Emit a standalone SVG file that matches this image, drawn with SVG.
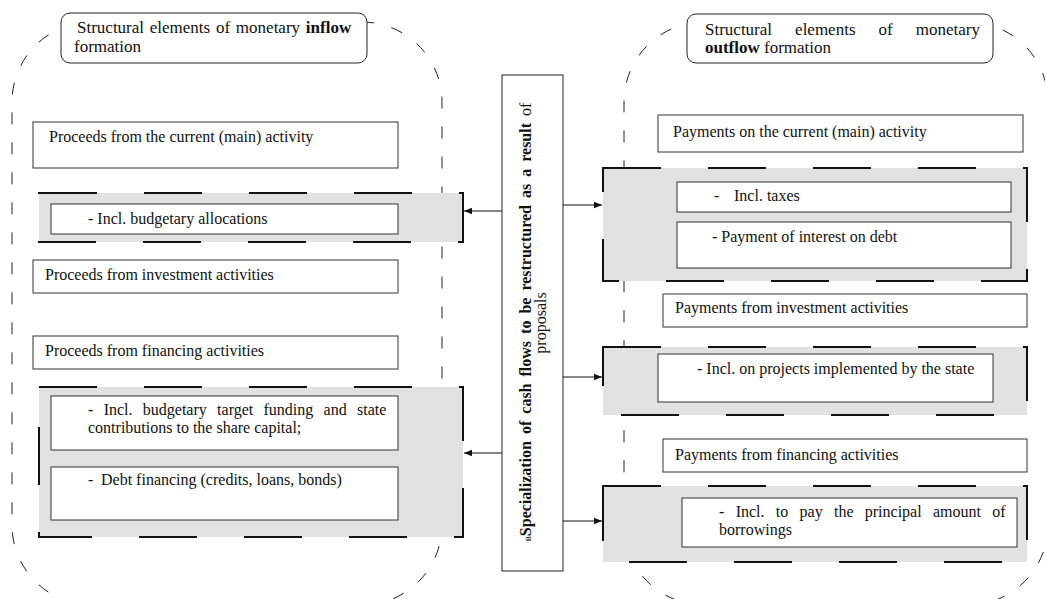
<svg xmlns="http://www.w3.org/2000/svg" width="1045" height="599" viewBox="0 0 1045 599" font-family="Liberation Serif, Times New Roman, serif">
<defs>
<style>
text{font-family:"Liberation Serif","Times New Roman",serif;font-size:16px;fill:#111}
.b{font-weight:bold}
.t{font-size:17px}
.big{fill:none;stroke:#222;stroke-width:1;stroke-dasharray:12 18}
.gray{fill:#e1e1e1;stroke:#111;stroke-width:2;stroke-dasharray:58 47}
.box{fill:#fff;stroke:#333;stroke-width:1}
.title{fill:#fff;stroke:#222;stroke-width:1}
.con{fill:none;stroke:#111;stroke-width:1.2}
</style>
<marker id="ah" viewBox="0 0 10 10" refX="10" refY="5" markerWidth="8" markerHeight="8" markerUnits="userSpaceOnUse" orient="auto"><path d="M0,1 L10,5 L0,9 Z" fill="#111"/></marker>
</defs>
<rect width="1045" height="599" fill="#fff"/>

<g id="inflow-area">
<rect class="big" x="12" y="22" width="430" height="583" rx="80" ry="80"/>
</g>
<g id="outflow-area">
<rect class="big" x="624" y="22" width="424" height="583" rx="80" ry="80"/>
</g>

<g id="inflow-title">
<rect class="title" x="61" y="13" width="306" height="50" rx="9" ry="9"/>
<text class="t" x="77" y="33" word-spacing="1.5">Structural elements of monetary <tspan class="b">inflow</tspan></text>
<text class="t" x="74" y="52">formation</text>
</g>

<g id="proceeds-current">
<rect class="box" x="33" y="122" width="365" height="46"/>
<text x="49" y="142">Proceeds from the current (main) activity</text>
</g>

<g id="group-budget-alloc">
<rect class="gray" x="39" y="193" width="424" height="49"/>
<g id="incl-budget-alloc">
<rect class="box" x="51" y="204" width="347" height="30"/>
<text x="88" y="224">- Incl. budgetary allocations</text>
</g>
</g>

<g id="proceeds-investment">
<rect class="box" x="33" y="260" width="365" height="33"/>
<text x="45" y="280">Proceeds from investment activities</text>
</g>

<g id="proceeds-financing">
<rect class="box" x="33" y="336" width="365" height="33"/>
<text x="45" y="356">Proceeds from financing activities</text>
</g>

<g id="group-financing">
<rect class="gray" x="39" y="387" width="424" height="150"/>
<g id="incl-target-funding">
<rect class="box" x="51" y="396" width="347" height="54"/>
<text x="88" y="415" word-spacing="6.3">- Incl. budgetary target funding and state</text>
<text x="88" y="433">contributions to the share capital;</text>
</g>
<g id="debt-financing">
<rect class="box" x="51" y="467" width="347" height="53"/>
<text y="485"><tspan x="88">-</tspan><tspan x="101">Debt financing (credits, loans, bonds)</tspan></text>
</g>
</g>

<g id="center">
<rect x="502" y="75" width="61" height="496" fill="#fff" stroke="#222" stroke-width="1"/>
<text transform="translate(531,322) rotate(-90)" text-anchor="middle" word-spacing="3"><tspan font-size="11">в</tspan><tspan class="b">Specialization of cash flows to be restructured as a result</tspan> of</text>
<text transform="translate(546,323) rotate(-90)" text-anchor="middle">proposals</text>
</g>

<g id="outflow-title">
<rect class="title" x="687" y="14" width="306" height="49" rx="9" ry="9"/>
<text class="t" x="705" y="35" word-spacing="18.8">Structural elements of monetary</text>
<text class="t" x="705" y="53"><tspan class="b">outflow</tspan> formation</text>
</g>

<g id="payments-current">
<rect class="box" x="658" y="115" width="365" height="37"/>
<text x="673" y="137">Payments on the current (main) activity</text>
</g>

<g id="group-taxes">
<rect class="gray" x="603" y="168" width="424" height="113"/>
<g id="incl-taxes">
<rect class="box" x="677" y="182" width="334" height="30"/>
<text y="201"><tspan x="714">-</tspan><tspan x="734">Incl. taxes</tspan></text>
</g>
<g id="interest-debt">
<rect class="box" x="677" y="222" width="334" height="46"/>
<text x="712" y="242">- Payment of interest on debt</text>
</g>
</g>

<g id="payments-investment">
<rect class="box" x="663" y="294" width="364" height="33"/>
<text x="675" y="313">Payments from investment activities</text>
</g>

<g id="group-projects">
<rect class="gray" x="603" y="347" width="424" height="68"/>
<g id="incl-projects">
<rect class="box" x="658" y="354" width="335" height="48"/>
<text x="697" y="374">- Incl. on projects implemented by the state</text>
</g>
</g>

<g id="payments-financing">
<rect class="box" x="663" y="439" width="364" height="33"/>
<text x="675" y="460">Payments from financing activities</text>
</g>

<g id="group-principal">
<rect class="gray" x="603" y="486" width="424" height="76"/>
<g id="incl-principal">
<rect class="box" x="682" y="498" width="335" height="49"/>
<text x="719" y="517" word-spacing="7.3">- Incl. to pay the principal amount of</text>
<text x="719" y="535">borrowings</text>
</g>
</g>

<g id="connectors">
<line class="con" x1="502" y1="211" x2="464" y2="211" marker-end="url(#ah)"/>
<line class="con" x1="502" y1="453" x2="464" y2="453" marker-end="url(#ah)"/>
<line class="con" x1="563" y1="205" x2="602" y2="205" marker-end="url(#ah)"/>
<line class="con" x1="563" y1="377" x2="602" y2="377" marker-end="url(#ah)"/>
<line class="con" x1="563" y1="521" x2="602" y2="521" marker-end="url(#ah)"/>
</g>
</svg>
